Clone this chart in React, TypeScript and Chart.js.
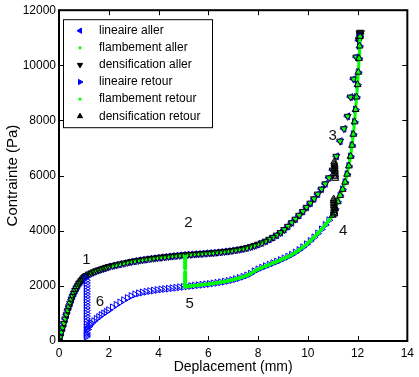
import React, { useEffect, useRef } from 'react';
import { Chart, registerables } from 'chart.js';

Chart.register(...registerables);

const FONT = "'Liberation Sans', Arial, Helvetica, sans-serif";

const xTickValues = [0, 2, 4, 6, 8, 10, 12, 14];
const yTickValues = [0, 2000, 4000, 6000, 8000, 10000, 12000];

const seriesNames = [
  'lineaire aller',
  'flambement aller',
  'densification aller',
  'lineaire retour',
  'flambement retour',
  'densification retour',
];

// loading branch (upper curve)
const upperX = [
  0, 0.05, 0.1, 0.15, 0.2, 0.25, 0.3, 0.35, 0.4, 0.45, 0.5, 0.55, 0.6, 0.65, 0.7, 0.75, 0.8, 0.85, 0.9, 0.95,
  1.0, 1.05, 1.1, 1.2, 1.3, 1.4, 1.5, 1.6, 1.7, 1.8, 1.9, 2.0, 2.15, 2.3, 2.45, 2.6, 2.75, 2.9, 3.05, 3.2,
  3.35, 3.5, 3.65, 3.8, 3.95, 4.1, 4.25, 4.4, 4.55, 4.7, 4.85, 5.0, 5.15, 5.3, 5.45, 5.6, 5.75, 5.9, 6.05, 6.2,
  6.35, 6.5, 6.65, 6.8, 6.95, 7.1, 7.25, 7.4, 7.55, 7.7, 7.85, 8.0, 8.15, 8.3, 8.45, 8.6, 8.75, 8.9, 9.05, 9.2,
  9.35, 9.5, 9.65, 9.8, 9.95, 10.1, 10.25, 10.4, 10.55, 10.7, 10.85, 11.0, 11.15, 11.3, 11.45, 11.6, 11.72, 11.84, 11.95, 12.05,
  12.1,
];
const upperY = [
  0, 150, 320, 480, 640, 800, 950, 1100, 1240, 1370, 1500, 1620, 1730, 1830, 1920, 2000, 2080, 2140, 2200, 2250,
  2300, 2340, 2380, 2430, 2470, 2510, 2550, 2580, 2610, 2640, 2670, 2700, 2730, 2760, 2790, 2820, 2850, 2880, 2900, 2925,
  2945, 2965, 2985, 3000, 3020, 3035, 3050, 3065, 3080, 3095, 3105, 3120, 3130, 3140, 3150, 3160, 3170, 3180, 3190, 3200,
  3215, 3230, 3245, 3260, 3280, 3300, 3325, 3350, 3380, 3420, 3460, 3510, 3560, 3620, 3690, 3760, 3840, 3930, 4040, 4160,
  4290, 4420, 4560, 4700, 4850, 5000, 5160, 5330, 5510, 5700, 5920, 6200, 6700, 7250, 7700, 8150, 8850, 9500, 10300, 10900,
  11100,
];

// unloading branch (lower curve)
const lowerX = [
  1.1, 1.15, 1.2, 1.25, 1.3, 1.4, 1.5, 1.6, 1.7, 1.8, 1.9, 2.0, 2.15, 2.3, 2.45, 2.6, 2.75, 2.9, 3.05, 3.2,
  3.35, 3.5, 3.65, 3.8, 3.95, 4.1, 4.25, 4.4, 4.55, 4.7, 4.85, 5.0, 5.15, 5.3, 5.45, 5.6, 5.75, 5.9, 6.05, 6.2,
  6.35, 6.5, 6.65, 6.8, 6.95, 7.1, 7.25, 7.4, 7.55, 7.7, 7.85, 8.0, 8.15, 8.3, 8.45, 8.6, 8.75, 8.9, 9.05, 9.2,
  9.35, 9.5, 9.65, 9.8, 9.95, 10.1, 10.25, 10.4, 10.55, 10.7, 10.85, 11.0, 11.1, 11.2, 11.3, 11.4, 11.5, 11.58, 11.65, 11.72,
  11.78, 11.83, 11.88, 11.92, 11.96, 12.0, 12.03, 12.06, 12.08, 12.1,
];
const lowerY = [
  250, 420, 520, 590, 640, 720, 800, 870, 940, 1000, 1060, 1120, 1220, 1310, 1400, 1480, 1560, 1630, 1690, 1730,
  1760, 1785, 1810, 1830, 1850, 1870, 1885, 1900, 1915, 1930, 1950, 1965, 1980, 1995, 2010, 2025, 2040, 2055, 2070, 2090,
  2110, 2130, 2155, 2180, 2210, 2245, 2285, 2330, 2380, 2440, 2530, 2600, 2660, 2715, 2770, 2825, 2880, 2935, 2995, 3060,
  3130, 3210, 3300, 3400, 3510, 3630, 3760, 3900, 4050, 4210, 4380, 4560, 4800, 5050, 5280, 5500, 5760, 6050, 6350, 6700,
  7100, 7500, 7950, 8400, 8850, 9300, 9750, 10250, 10700, 11050,
];

// vertical drop at the end of the linear stage (blue)
const linDropX = [1.08, 1.1, 1.1, 1.1, 1.1, 1.1, 1.1, 1.1, 1.1, 1.1, 1.1, 1.1, 1.1, 1.1, 1.1, 1.1, 1.1, 1.1, 1.1, 1.1, 1.1, 1.1, 1.1];
const linDropY = [2300, 2200, 2100, 2000, 1900, 1800, 1700, 1600, 1500, 1400, 1300, 1200, 1100, 1000, 900, 800, 700, 600, 500, 400, 300, 200, 150];

// vertical drop in the buckling stage (green)
const flambDropTopX = [5.07, 5.07, 5.07, 5.07, 5.07, 5.07, 5.07];
const flambDropTopY = [3050, 2980, 2910, 2840, 2770, 2700, 2640];
const flambDropBottomX = [5.07, 5.07, 5.07, 5.07, 5.07, 5.07, 5.07, 5.07, 5.07, 5.07];
const flambDropBottomY = [2500, 2440, 2380, 2320, 2260, 2200, 2140, 2080, 2020, 1970];

// densification stops (black)
const densUpperX = [11.06, 11.07, 11.08, 11.08, 11.08, 11.09, 11.09, 11.09, 11.1, 11.1, 11.1];
const densUpperY = [6500, 6440, 6380, 6320, 6260, 6200, 6140, 6080, 6020, 5960, 5900];
const densLowerX = [11.04, 11.04, 11.05, 11.05, 11.05, 11.06, 11.06, 11.06, 11.07, 11.07];
const densLowerY = [5150, 5090, 5030, 4970, 4910, 4850, 4790, 4730, 4670, 4610];
const topClusterX = [12.06, 12.08, 12.1, 12.12, 12.14, 12.1];
const topClusterY = [10950, 11150, 11200, 11100, 11180, 10980];

const annotationText = ['1', '2', '3', '4', '5', '6'];
const annotationX = [1.1, 5.2, 11.0, 11.42, 5.25, 1.64];
const annotationY = [2930, 4280, 7430, 4000, 1330, 1420];

const BLUE = '#0000ff';
const GREEN = '#00ff00';
const BLACK = '#000000';

const pts = (xs: number[], ys: (number | null)[]) => xs.map((x, i) => ({ x, y: ys[i] }));

type MarkerDef = { kind: 'tri' | 'dot'; rot: number; color: string };
const markers: MarkerDef[] = [
  { kind: 'tri', rot: -90, color: BLUE },
  { kind: 'dot', rot: 0, color: GREEN },
  { kind: 'tri', rot: 180, color: BLACK },
  { kind: 'tri', rot: 90, color: BLUE },
  { kind: 'dot', rot: 0, color: GREEN },
  { kind: 'tri', rot: 0, color: BLACK },
];

function drawMarker(ctx: CanvasRenderingContext2D, m: MarkerDef, x: number, y: number) {
  ctx.save();
  if (m.kind === 'dot') {
    ctx.fillStyle = m.color;
    ctx.beginPath();
    ctx.arc(x, y, 1.6, 0, Math.PI * 2);
    ctx.fill();
  } else {
    const r = 3;
    let a = (m.rot * Math.PI) / 180;
    ctx.strokeStyle = m.color;
    ctx.fillStyle = m.color;
    ctx.lineWidth = 1;
    ctx.beginPath();
    for (let k = 0; k < 3; k++) {
      const px = x + Math.sin(a) * r;
      const py = y - Math.cos(a) * r;
      if (k === 0) ctx.moveTo(px, py);
      else ctx.lineTo(px, py);
      a += (2 * Math.PI) / 3;
    }
    ctx.closePath();
    ctx.fill();
    ctx.stroke();
  }
  ctx.restore();
}

const framePlugin = {
  id: 'matlabFrame',
  afterDraw(chart: any) {
    const { ctx, chartArea: a, scales } = chart;
    const xs = scales.x;
    const ys = scales.y;
    ctx.save();
    ctx.strokeStyle = '#000';
    ctx.lineWidth = 1;
    const tl = 5;
    ctx.beginPath();
    xTickValues.forEach((v) => {
      const px = Math.round(xs.getPixelForValue(v)) + 0.5;
      ctx.moveTo(px, a.bottom);
      ctx.lineTo(px, a.bottom - tl);
      ctx.moveTo(px, a.top);
      ctx.lineTo(px, a.top + tl);
    });
    yTickValues.forEach((v) => {
      const py = Math.round(ys.getPixelForValue(v)) + 0.5;
      ctx.moveTo(a.left, py);
      ctx.lineTo(a.left + tl, py);
      ctx.moveTo(a.right, py);
      ctx.lineTo(a.right - tl, py);
    });
    ctx.stroke();
    ctx.lineWidth = 2;
    ctx.strokeRect(a.left, a.top, a.right - a.left, a.bottom - a.top);
    ctx.restore();
  },
};

const annotationPlugin = {
  id: 'numberLabels',
  afterDraw(chart: any) {
    const { ctx, scales } = chart;
    ctx.save();
    ctx.font = `15px ${FONT}`;
    ctx.fillStyle = '#111';
    ctx.textAlign = 'center';
    ctx.textBaseline = 'middle';
    annotationText.forEach((t, i) => {
      ctx.fillText(t, scales.x.getPixelForValue(annotationX[i]), scales.y.getPixelForValue(annotationY[i]));
    });
    ctx.restore();
  },
};

const legendPlugin = {
  id: 'boxedLegend',
  afterDraw(chart: any) {
    const { ctx, chartArea: a } = chart;
    const left = a.left + 4;
    const top = a.top + 9;
    const w = 149;
    const h = 108;
    ctx.save();
    ctx.fillStyle = '#fff';
    ctx.fillRect(left, top, w, h);
    ctx.strokeStyle = '#000';
    ctx.lineWidth = 1;
    ctx.strokeRect(left + 0.5, top + 0.5, w, h);
    ctx.font = `12px ${FONT}`;
    ctx.textBaseline = 'middle';
    ctx.textAlign = 'left';
    seriesNames.forEach((name, i) => {
      const y = top + 11.5 + i * 17.1;
      drawMarker(ctx, markers[i], left + 17, y);
      ctx.fillStyle = '#000';
      ctx.fillText(name, left + 36, y);
    });
    ctx.restore();
  },
};

const triDs = (label: string, data: any[], rot: number, color: string) => ({
  label,
  data,
  showLine: false,
  pointStyle: 'triangle',
  pointRotation: rot,
  pointRadius: 4,
  pointBorderWidth: 1,
  pointBorderColor: color,
  pointBackgroundColor: 'rgba(0,0,0,0)',
  borderColor: color,
  backgroundColor: 'rgba(0,0,0,0)',
});

export default function App() {
  const ref = useRef<HTMLCanvasElement | null>(null);

  useEffect(() => {
    if (!ref.current) return;

    const linAller = pts(upperX, upperY);
    const flambAller = pts(upperX, upperY);
    const densAller = [...pts(upperX, upperY), ...pts(topClusterX, topClusterY)];
    const linRetour = [...pts(linDropX, linDropY), ...pts(lowerX, lowerY)];
    const lowerFromFlamb = pts(lowerX, lowerY).filter((p) => p.x >= 5.07);
    const flambRetour = [
      ...pts(flambDropTopX, flambDropTopY),
      { x: 5.07, y: null },
      ...pts(flambDropBottomX, flambDropBottomY),
      ...lowerFromFlamb,
    ];
    const densRetour = [
      ...pts(densUpperX, densUpperY),
      ...pts(densLowerX, densLowerY),
      ...pts(lowerX, lowerY).filter((p) => p.x >= 11.0),
    ];

    const datasets: any[] = [
      triDs(seriesNames[5], densRetour, 0, BLACK),
      {
        label: seriesNames[4],
        data: flambRetour,
        showLine: true,
        spanGaps: false,
        borderColor: GREEN,
        borderWidth: 3,
        tension: 0,
        pointStyle: 'circle',
        pointRadius: 2,
        pointBorderWidth: 0,
        pointBackgroundColor: GREEN,
        backgroundColor: GREEN,
      },
      triDs(seriesNames[3], linRetour, 90, BLUE),
      triDs(seriesNames[2], densAller, 180, BLACK),
      {
        label: seriesNames[1],
        data: flambAller,
        showLine: false,
        pointStyle: 'circle',
        pointRadius: 2,
        pointBorderWidth: 0,
        pointBackgroundColor: GREEN,
        borderColor: GREEN,
        backgroundColor: GREEN,
      },
      triDs(seriesNames[0], linAller, -90, BLUE),
    ];

    const chart = new Chart(ref.current, {
      type: 'scatter',
      data: { datasets },
      options: {
        animation: false,
        responsive: true,
        maintainAspectRatio: false,
        devicePixelRatio: 1,
        events: [],
        layout: { padding: { top: 8, right: 9, bottom: 0, left: 0 } },
        plugins: {
          legend: { display: false },
          tooltip: { enabled: false },
        },
        scales: {
          x: {
            type: 'linear',
            min: 0,
            max: 14,
            grid: { display: false, drawTicks: false },
            border: { display: false },
            ticks: {
              stepSize: 2,
              padding: 5,
              color: '#000',
              font: { family: FONT, size: 12 },
              callback: (v: any) => String(v),
            },
            title: {
              display: true,
              text: 'Deplacement (mm)',
              color: '#000',
              font: { family: FONT, size: 14 },
              padding: { top: 0, bottom: 1 },
            },
            afterFit: (s: any) => {
              s.height = 36;
            },
          },
          y: {
            type: 'linear',
            min: 0,
            max: 12000,
            grid: { display: false, drawTicks: false },
            border: { display: false },
            ticks: {
              stepSize: 2000,
              padding: 3,
              color: '#000',
              font: { family: FONT, size: 12 },
              callback: (v: any) => String(v),
            },
            title: {
              display: true,
              text: 'Contrainte (Pa)',
              color: '#000',
              font: { family: FONT, size: 15 },
              padding: { top: 3.5, bottom: 0 },
            },
            afterFit: (s: any) => {
              s.width = 59;
            },
          },
        },
      },
      plugins: [framePlugin, annotationPlugin, legendPlugin],
    } as any);

    return () => chart.destroy();
  }, []);

  return (
    <div style={{ position: 'absolute', left: 0, top: 0, width: 419, height: 377, background: '#fff' }}>
      <canvas ref={ref} />
    </div>
  );
}
